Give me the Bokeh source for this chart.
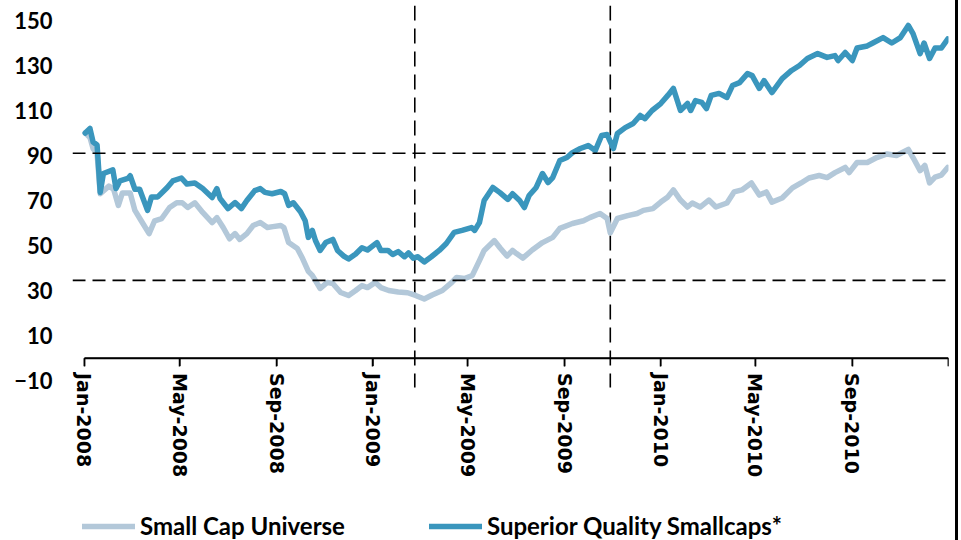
import pandas as pd
from bokeh.plotting import figure
from bokeh.models import Range1d, FixedTicker, Span, Legend, LegendItem, ColumnDataSource
from bokeh.embed import file_html
from bokeh.resources import INLINE

# ---------------- data ----------------
scu_dates = [
    "2008-01-02", "2008-01-08", "2008-01-12", "2008-01-17", "2008-01-21", "2008-02-01", "2008-02-07",
    "2008-02-13", "2008-02-18", "2008-02-28", "2008-03-05", "2008-03-13", "2008-03-23", "2008-03-30",
    "2008-04-08", "2008-04-18", "2008-04-27", "2008-05-04", "2008-05-11", "2008-05-20", "2008-05-30",
    "2008-06-11", "2008-06-17", "2008-06-25", "2008-07-03", "2008-07-10", "2008-07-16", "2008-07-25",
    "2008-08-02", "2008-08-11", "2008-08-20", "2008-08-27", "2008-09-06", "2008-09-10", "2008-09-16",
    "2008-09-27", "2008-10-03", "2008-10-11", "2008-10-16", "2008-10-26", "2008-11-04", "2008-11-11",
    "2008-11-21", "2008-12-01", "2008-12-10", "2008-12-18", "2008-12-25", "2009-01-04", "2009-01-11",
    "2009-01-21", "2009-02-02", "2009-02-14", "2009-02-24", "2009-03-07", "2009-03-17", "2009-03-30",
    "2009-04-11", "2009-04-17", "2009-04-27", "2009-05-07", "2009-05-16", "2009-05-22", "2009-06-04",
    "2009-06-11", "2009-06-20", "2009-06-27", "2009-07-02", "2009-07-10", "2009-07-22", "2009-08-04",
    "2009-08-17", "2009-08-26", "2009-09-11", "2009-09-25", "2009-10-03", "2009-10-16", "2009-10-25",
    "2009-10-29", "2009-11-07", "2009-11-20", "2009-12-02", "2009-12-10", "2009-12-22", "2010-01-01",
    "2010-01-10", "2010-01-17", "2010-01-26", "2010-02-04", "2010-02-10", "2010-02-20", "2010-03-03",
    "2010-03-12", "2010-03-26", "2010-04-04", "2010-04-14", "2010-04-26", "2010-05-06", "2010-05-15",
    "2010-05-22", "2010-06-04", "2010-06-17", "2010-06-28", "2010-07-08", "2010-07-21", "2010-07-31",
    "2010-08-10", "2010-08-23", "2010-08-28", "2010-09-07", "2010-09-20", "2010-10-02", "2010-10-15",
    "2010-10-27", "2010-11-11", "2010-11-17", "2010-11-26", "2010-12-02", "2010-12-08", "2010-12-15",
    "2010-12-23", "2010-12-31",
]
scu_values = [
    100, 98, 93, 91, 73, 76.4, 75,
    67.8, 73.3, 73.3, 65.6, 61, 55.3, 61,
    62, 66.9, 69, 69, 66.9, 69, 64.7,
    60.2, 62.4, 58, 53, 55.3, 52.7, 55.3,
    58.9, 60.2, 58, 58.4, 58.9, 58, 51.3,
    48.7, 44.7, 38.5, 36.7, 30.9, 33.6, 33.1,
    29.1, 27.8, 30, 32.2, 31.3, 33.6, 31.3,
    30, 29.3, 29, 27.8, 26.2, 28, 30,
    33.6, 35.8, 35.3, 36.7, 43.3, 47.8, 52.2,
    49, 45.3, 47.8, 46.4, 44.4, 48, 51.3,
    53.6, 57.6, 59.8, 61, 62.4, 64.2, 62,
    55.6, 62, 63.3, 64.2, 65.6, 66.4, 69.3,
    71.6, 74.7, 70.2, 67.1, 68.9, 67.1, 70.2,
    67.1, 68.9, 73.8, 74.7, 77.8, 72.4, 73.8,
    69.3, 71.1, 75.6, 77.8, 80, 81.1, 80.2,
    82.4, 84.7, 82.4, 86.9, 86.9, 89.1, 90.7,
    90, 92.7, 89.1, 83.3, 85.6, 77.8, 80.4,
    81.3, 84.7,
]

sq_dates = [
    "2008-01-02", "2008-01-08", "2008-01-12", "2008-01-17", "2008-01-21", "2008-01-25", "2008-02-06",
    "2008-02-10", "2008-02-15", "2008-02-25", "2008-02-28", "2008-03-05", "2008-03-11", "2008-03-21",
    "2008-03-26", "2008-04-03", "2008-04-15", "2008-04-22", "2008-05-03", "2008-05-10", "2008-05-20",
    "2008-05-30", "2008-06-11", "2008-06-17", "2008-06-21", "2008-07-01", "2008-07-10", "2008-07-18",
    "2008-07-25", "2008-08-04", "2008-08-11", "2008-08-17", "2008-08-26", "2008-09-06", "2008-09-11",
    "2008-09-16", "2008-09-22", "2008-10-01", "2008-10-07", "2008-10-11", "2008-10-16", "2008-10-20",
    "2008-10-26", "2008-11-02", "2008-11-11", "2008-11-17", "2008-11-25", "2008-12-01", "2008-12-10",
    "2008-12-18", "2008-12-25", "2009-01-06", "2009-01-11", "2009-01-20", "2009-01-26", "2009-02-02",
    "2009-02-10", "2009-02-15", "2009-02-21", "2009-02-27", "2009-03-07", "2009-03-16", "2009-03-26",
    "2009-04-04", "2009-04-14", "2009-04-24", "2009-05-06", "2009-05-10", "2009-05-16", "2009-05-22",
    "2009-06-02", "2009-06-11", "2009-06-21", "2009-06-27", "2009-07-06", "2009-07-12", "2009-07-18",
    "2009-07-27", "2009-08-04", "2009-08-11", "2009-08-17", "2009-08-26", "2009-09-04", "2009-09-11",
    "2009-09-21", "2009-10-01", "2009-10-10", "2009-10-18", "2009-10-25", "2009-11-02", "2009-11-07",
    "2009-11-17", "2009-11-27", "2009-12-06", "2009-12-12", "2009-12-21", "2010-01-01", "2010-01-10",
    "2010-01-17", "2010-01-26", "2010-02-04", "2010-02-08", "2010-02-14", "2010-02-22", "2010-02-28",
    "2010-03-06", "2010-03-16", "2010-03-26", "2010-04-02", "2010-04-11", "2010-04-21", "2010-04-27",
    "2010-05-06", "2010-05-12", "2010-05-22", "2010-06-04", "2010-06-16", "2010-06-26", "2010-07-06",
    "2010-07-19", "2010-07-31", "2010-08-10", "2010-08-14", "2010-08-23", "2010-09-01", "2010-09-07",
    "2010-09-20", "2010-09-27", "2010-10-10", "2010-10-21", "2010-11-01", "2010-11-11", "2010-11-17",
    "2010-11-26", "2010-12-01", "2010-12-08", "2010-12-15", "2010-12-23", "2010-12-31",
]
sq_values = [
    100, 102, 96, 94.7, 73.6, 82, 83.6,
    75.3, 78.7, 79.8, 81, 75, 75, 65.6,
    71.6, 71.6, 75.8, 78.7, 80, 77.3, 77.8,
    75.3, 71.3, 75.3, 70.9, 66.4, 69.1, 66.4,
    70, 74.4, 75.3, 73.6, 73, 74, 73,
    67.8, 69, 65, 61, 53.6, 56.7, 52.2,
    47.8, 51.3, 52.7, 47.8, 45.3, 44, 46.2,
    49, 48, 51.3, 47.8, 47.8, 46, 47.3,
    45, 46.7, 44.4, 45, 42.7, 45, 47.8,
    50.9, 55.8, 56.7, 58, 56.7, 60.2, 70,
    75.8, 73.5, 70.5, 73, 70, 66.9, 72.2,
    75.8, 82, 78, 80.2, 87.8, 89.1, 91.3,
    93.1, 94.4, 92.2, 98.9, 99.3, 93.1, 99.8,
    102.4, 104.2, 107.8, 106.4, 110, 113.1, 116.7,
    119.8, 110, 113.1, 110, 114.4, 113.6, 110.9,
    116.7, 117.6, 115.8, 121.1, 122.4, 126.4, 125.5,
    119.8, 123.3, 118, 124.2, 127.8, 130, 133.1,
    135.3, 133.6, 134.4, 132.2, 135.8, 132.2, 137.8,
    138.7, 140, 142.4, 140, 142.4, 147.8, 144.2,
    135.3, 140, 133.1, 137.8, 137.8, 141.8,
]

series_labels = ["Small Cap Universe", "Superior Quality Smallcaps*"]
series_colors = ["#B3C8D9", "#3A96BD"]

x_tick_dates = ["2008-01-01", "2008-05-01", "2008-09-01", "2009-01-01", "2009-05-01",
                "2009-09-01", "2010-01-01", "2010-05-01", "2010-09-01", "2011-01-01"]
x_tick_labels = ["Jan-2008", "May-2008", "Sep-2008", "Jan-2009", "May-2009",
                 "Sep-2009", "Jan-2010", "May-2010", "Sep-2010", ""]
y_ticks = [-10, 10, 30, 50, 70, 90, 110, 130, 150]

ref_levels = [91, 34.5]
ref_dates = ["2009-02-23", "2009-10-29"]

axis_start, axis_end = "2008-01-01", "2011-01-01"
x_start, x_end = "2007-12-16 20:00", "2011-01-01"
y_start, y_end = -81.11, 156.67
vline_bottom = -13.1
axis_level = 0
tick_bottom = -3.6

# ---------------- figure ----------------
def ms(d):
    return pd.Timestamp(d).value / 1e6

p = figure(width=958, height=540, x_axis_type="datetime",
           x_range=Range1d(pd.Timestamp(x_start), pd.Timestamp(x_end)),
           y_range=Range1d(y_start, y_end),
           output_backend="svg", toolbar_location=None,
           min_border_left=72, min_border_right=10, min_border_top=5, min_border_bottom=0,
           styles={"border-right": "3px solid #000000"})
p.grid.visible = False
p.outline_line_color = None

src_scu = ColumnDataSource(dict(x=pd.to_datetime(scu_dates), y=scu_values))
src_sq = ColumnDataSource(dict(x=pd.to_datetime(sq_dates), y=sq_values))

for lv in ref_levels:
    p.add_layout(Span(location=lv, dimension="width", line_color="black",
                      line_width=1.6, line_dash="13 7"))
vd = pd.to_datetime(ref_dates)
p.segment(x0=vd, y0=[y_end] * len(vd), x1=vd, y1=[vline_bottom] * len(vd),
          line_color="black", line_width=1.6, line_dash="15 8")

r1 = p.line("x", "y", source=src_scu, line_color=series_colors[0], line_width=5.5,
            line_join="round", line_cap="round")
r2 = p.line("x", "y", source=src_sq, line_color=series_colors[1], line_width=5.5,
            line_join="round", line_cap="round")

# horizontal axis crossing at 0 (rule + tick marks)
td = pd.to_datetime(x_tick_dates)
p.line(x=pd.to_datetime([axis_start, axis_end]), y=[axis_level, axis_level],
       line_color="black", line_width=1.5)
p.multi_line(xs=[[t, t] for t in td], ys=[[axis_level, tick_bottom] for _ in td],
             line_color="black", line_width=1.5)

xa = p.xaxis[0]
xa.fixed_location = axis_level
xa.bounds = (ms(axis_start), ms(axis_end))
xa.ticker = FixedTicker(ticks=[ms(d) for d in x_tick_dates])
xa.major_label_overrides = {ms(d): lab for d, lab in zip(x_tick_dates, x_tick_labels)}
xa.major_label_orientation = "vertical"
xa.minor_tick_line_color = None
xa.major_tick_line_color = "black"
xa.axis_line_color = "black"
xa.axis_line_width = 1.5
xa.major_tick_line_width = 1.5
xa.major_tick_in = 0
xa.major_tick_out = 8
xa.major_label_standoff = 7
xa.major_label_text_font = "DejaVu Sans"
xa.major_label_text_font_style = "bold"
xa.major_label_text_font_size = "19px"
xa.major_label_text_color = "black"

ya = p.yaxis[0]
ya.ticker = FixedTicker(ticks=y_ticks)
ya.axis_line_color = None
ya.major_tick_line_color = None
ya.minor_tick_line_color = None
ya.major_tick_out = 0
ya.major_tick_in = 0
ya.major_label_standoff = 20
ya.major_label_text_font = "Lato"
ya.major_label_text_font_style = "bold"
ya.major_label_text_font_size = "22px"
ya.major_label_text_color = "black"

legend = Legend(items=[LegendItem(label=series_labels[0], renderers=[r1]),
                       LegendItem(label=series_labels[1], renderers=[r2])],
                location=(10, 0), orientation="horizontal",
                glyph_width=53, glyph_height=20, label_standoff=5, spacing=84,
                padding=0, margin=0, border_line_color=None, background_fill_alpha=0,
                label_text_font="Lato", label_text_font_style="bold",
                label_text_font_size="24px", label_text_color="black")
p.add_layout(legend)

open("out.html", "w").write(file_html(p, INLINE))
